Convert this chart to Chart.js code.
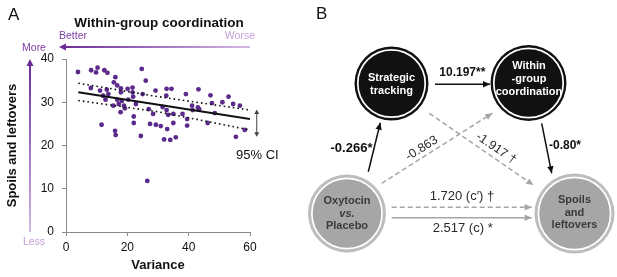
<!DOCTYPE html>
<html lang="en">
<head>
<meta charset="UTF-8">
<title>Coordination, spoils and oxytocin</title>
<script src="https://cdn.jsdelivr.net/npm/chart.js"></script>
<style>
    body {
        margin: 0;
        background: #fff;
    }
    .figure {
        position: relative;
        width: 617px;
        height: 277px;
    }
    #panelA { position: absolute; left: 0; top: 0; }
    #panelB { position: absolute; left: 300px; top: 0; }
</style>
</head>
<body>
<div class="figure">
    <canvas id="panelA" width="300" height="277"></canvas>
    <canvas id="panelB" width="317" height="277"></canvas>
</div>
<script>
    // ---- panel A data ----
    const varianceVals = [3.9, 8.2, 9.8, 10.3, 12.5, 13.5, 24.7, 16.1, 15.6, 16.7, 26.0, 8.1, 11.1, 13.3, 13.8, 12.1,
        12.9, 15.4, 17.9, 17.9, 20.1, 21.7, 21.7, 18.2, 16.7, 17.2, 18.9, 19.2, 17.8, 20.3, 21.9, 22.8, 25.0, 29.2,
        32.8, 34.4, 32.7, 27.0, 28.4, 27.4, 30.9, 33.0, 35.0, 35.0, 33.3, 32.8, 31.5, 39.1, 43.2, 41.1, 41.3, 39.5,
        39.5, 38.0, 47.1, 51.0, 53.0, 54.5, 56.7, 47.6, 43.0, 43.4, 48.5, 46.2, 58.3, 11.6, 16.0, 16.2, 22.1, 22.1,
        24.4, 29.3, 32.0, 34.0, 35.8, 55.4, 26.5];
    const spoilsVals = [37.0, 37.4, 36.9, 38.0, 37.4, 36.8, 37.7, 35.8, 34.6, 33.9, 35.0, 33.3, 32.7, 32.9, 31.9, 31.5,
        30.6, 29.2, 33.2, 32.3, 33.1, 33.4, 32.3, 30.3, 30.6, 29.6, 29.2, 28.6, 27.7, 30.6, 31.3, 29.6, 31.9, 32.7,
        33.1, 33.1, 31.5, 28.4, 27.3, 25.0, 24.5, 23.8, 25.2, 27.3, 27.1, 28.2, 28.9, 31.9, 33.0, 29.2, 28.2, 26.1,
        24.6, 27.3, 31.6, 30.0, 31.3, 29.6, 29.2, 29.8, 28.8, 28.4, 27.5, 25.2, 23.6, 24.8, 23.4, 22.4, 25.2, 26.7,
        22.2, 24.8, 21.4, 21.3, 21.9, 22.0, 11.8];

    const fitX = [4, 60];
    const fitY = [32.3, 26.1];
    const ciX = [4, 30, 60];
    const ciUpper = [34.4, 31.3, 28.2];
    const ciLower = [30.4, 27.8, 23.6];
    const ciBar = [28.3, 22.0];   // span shown by the "95% CI" double arrow
    const ciBarX = 62.2;

    const xTicks = [0, 20, 40, 60];
    const yTicks = [0, 10, 20, 30, 40];

    // ---- panel B data (path model) ----
    const nodeLabels = [['Strategic', 'tracking'], ['Within', '-group', 'coordination'], ['Oxytocin', 'vs.', 'Placebo'], ['Spoils', 'and', 'leftovers']];
    const edgeFrom = [0, 2, 1, 2, 0, 2, 2];
    const edgeTo = [1, 0, 3, 1, 3, 3, 3];
    const edgeCoef = ['10.197**', '-0.266*', '-0.80*', '-0.863', '-1.917 \u2020', '1.720 (c\u2032) \u2020', '2.517 (c) *'];
    const edgeSignificant = [true, true, true, false, false, false, true];

    const FONT = "'Liberation Sans', Arial, sans-serif";
    Chart.defaults.font.family = FONT;

    const purpleDark = '#6a2b93';
    const purpleLight = '#d4b8e4';
    const dotColor = '#5c2a8c';
    const axisGrey = '#8a8a8a';

    function arrowHead(ctx, x, y, angle, len, half, color) {
        ctx.save();
        ctx.translate(x, y);
        ctx.rotate(angle);
        ctx.beginPath();
        ctx.moveTo(0, 0);
        ctx.lineTo(-len, -half);
        ctx.lineTo(-len, half);
        ctx.closePath();
        ctx.fillStyle = color;
        ctx.fill();
        ctx.restore();
    }

    function text(ctx, str, x, y, font, color, align) {
        ctx.font = font;
        ctx.fillStyle = color;
        ctx.textAlign = align || 'center';
        ctx.textBaseline = 'middle';
        ctx.fillText(str, x, y);
    }

    // decorations of panel A: title, direction arrows, CI marker
    const panelADecor = {
        id: 'panelADecor',
        afterDraw(chart) {
            const { ctx, chartArea, scales: { x, y } } = chart;
            ctx.save();
            text(ctx, 'A', 8, 15, '17px ' + FONT, '#111', 'left');
            text(ctx, 'Within-group coordination', (chartArea.left + chartArea.right) / 2 + 1, 23, 'bold 13.5px ' + FONT, '#111');

            // horizontal "Better / Worse" arrow
            const ay = 47;
            let g = ctx.createLinearGradient(60, 0, chartArea.right, 0);
            g.addColorStop(0, purpleDark);
            g.addColorStop(1, purpleLight);
            ctx.strokeStyle = g;
            ctx.lineWidth = 2;
            ctx.beginPath();
            ctx.moveTo(chartArea.right, ay);
            ctx.lineTo(64, ay);
            ctx.stroke();
            arrowHead(ctx, 59, ay, Math.PI, 7, 3.5, purpleDark);
            text(ctx, 'Better', 59, 36, '10.5px ' + FONT, '#7d3ea3', 'left');
            text(ctx, 'Worse', 255, 36, '10.5px ' + FONT, '#c4a0d8', 'right');

            // vertical "More / Less" arrow
            const ax = 30;
            g = ctx.createLinearGradient(0, 60, 0, chartArea.bottom);
            g.addColorStop(0, purpleDark);
            g.addColorStop(1, purpleLight);
            ctx.strokeStyle = g;
            ctx.beginPath();
            ctx.moveTo(ax, chartArea.bottom);
            ctx.lineTo(ax, 64);
            ctx.stroke();
            arrowHead(ctx, ax, 59, -Math.PI / 2, 7, 3.5, purpleDark);
            text(ctx, 'More', 34, 48, '10.5px ' + FONT, '#7d3ea3');
            text(ctx, 'Less', 34, 242, '10.5px ' + FONT, '#c4a0d8');

            // 95% CI double arrow
            const cx = x.getPixelForValue(ciBarX);
            const cy1 = y.getPixelForValue(ciBar[0]);
            const cy2 = y.getPixelForValue(ciBar[1]);
            ctx.strokeStyle = '#444';
            ctx.lineWidth = 1;
            ctx.beginPath();
            ctx.moveTo(cx, cy1 + 3);
            ctx.lineTo(cx, cy2 - 3);
            ctx.stroke();
            arrowHead(ctx, cx, cy1, -Math.PI / 2, 4.5, 2.5, '#444');
            arrowHead(ctx, cx, cy2, Math.PI / 2, 4.5, 2.5, '#444');
            text(ctx, '95% CI', 236, 155, '13px ' + FONT, '#111', 'left');
            ctx.restore();
        }
    };

    const dottedLine = {
        type: 'line',
        borderColor: '#111',
        borderWidth: 1.6,
        borderDash: [1.6, 3],
        pointRadius: 0,
        fill: false,
        order: 0
    };

    new Chart(document.getElementById('panelA'), {
        type: 'scatter',
        data: {
            datasets: [
                {
                    data: varianceVals.map((v, i) => ({ x: v, y: spoilsVals[i] })),
                    backgroundColor: dotColor,
                    borderWidth: 0,
                    pointRadius: 2.4,
                    order: 1
                },
                {
                    type: 'line',
                    data: fitX.map((v, i) => ({ x: v, y: fitY[i] })),
                    borderColor: '#111',
                    borderWidth: 2,
                    pointRadius: 0,
                    fill: false,
                    order: 0
                },
                Object.assign({ data: ciX.map((v, i) => ({ x: v, y: ciUpper[i] })) }, dottedLine),
                Object.assign({ data: ciX.map((v, i) => ({ x: v, y: ciLower[i] })) }, dottedLine)
            ]
        },
        options: {
            responsive: false,
            animation: false,
            events: [],
            layout: { padding: { left: 0, right: 50, top: 59, bottom: 0 } },
            plugins: { legend: { display: false }, tooltip: { enabled: false } },
            scales: {
                x: {
                    type: 'linear',
                    min: 0,
                    max: 60,
                    afterBuildTicks: s => { s.ticks = xTicks.map(v => ({ value: v })); },
                    afterFit: s => { s.height = 45; },
                    ticks: { color: '#111', font: { size: 12 }, padding: 4, maxRotation: 0 },
                    grid: { drawOnChartArea: false, drawTicks: true, tickLength: 4, color: axisGrey },
                    border: { color: axisGrey },
                    title: { display: true, text: 'Variance', color: '#111', font: { size: 13, weight: 'bold' }, padding: { top: 0, bottom: 4 } }
                },
                y: {
                    min: 0,
                    max: 40,
                    afterBuildTicks: s => { s.ticks = yTicks.map(v => ({ value: v })); },
                    afterFit: s => { s.width = 66; },
                    ticks: { color: '#111', font: { size: 12 }, padding: 8 },
                    grid: { drawOnChartArea: false, drawTicks: true, tickLength: 4, color: axisGrey },
                    border: { color: axisGrey },
                    title: { display: true, text: 'Spoils and leftovers', color: '#111', font: { size: 13, weight: 'bold' }, padding: { top: 5, bottom: 0 } }
                }
            }
        },
        plugins: [panelADecor]
    });

    // ---- panel B layout (diagram units = pixels of panel B) ----
    const nodeLayout = {
        x: [91.5, 228.5, 47, 274.5],
        y: [83.5, 83, 213.5, 213.5],
        r: [37, 38, 39, 40],
        textDy: [1, -4, 0, -1]
    };
    const edgeLayout = [
        { x1: 135, y1: 84.3, x2: 190, y2: 84.3, lx: 162.3, ly: 72.3 },
        { x1: 68.3, y1: 171.7, x2: 80.3, y2: 122.7, lx: 51.5, ly: 148 },
        { x1: 241.7, y1: 123.3, x2: 251.7, y2: 173.3, lx: 265, ly: 146 },
        { x1: 81.7, y1: 183.3, x2: 192.3, y2: 113.3, lx: 121.7, ly: 148.3, rotate: true },
        { x1: 129.3, y1: 113.3, x2: 233.3, y2: 185, lx: 196, ly: 148.3, rotate: true },
        { x1: 91.7, y1: 207.3, x2: 231.7, y2: 207.3, lx: 162, ly: 196.7 },
        { x1: 91.7, y1: 217.7, x2: 231.7, y2: 217.7, lx: 162.7, ly: 228.3 }
    ];
    const edgeDashed = [false, false, false, true, true, true, false];
    const edgeLabelSize = [12, 13, 12, 12.5, 12.5, 13, 13];
    const blackNode = [true, true, false, false];

    const edgeColor = i => i < 3 ? '#111' : '#a6a6a6';

    const edgeDatasets = edgeLayout.map((e, i) => ({
        type: 'line',
        data: [{ x: e.x1, y: e.y1 }, { x: e.x2, y: e.y2 }],
        borderColor: edgeColor(i),
        borderWidth: 1.5,
        borderDash: edgeDashed[i] ? [5, 3] : [],
        pointRadius: 0,
        fill: false,
        order: 2
    }));

    const pathDecor = {
        id: 'pathDecor',
        afterDatasetsDraw(chart) {
            const { ctx, scales: { x, y } } = chart;
            ctx.save();
            // arrow heads and coefficients
            edgeLayout.forEach((e, i) => {
                const px1 = x.getPixelForValue(e.x1), py1 = y.getPixelForValue(e.y1);
                const px2 = x.getPixelForValue(e.x2), py2 = y.getPixelForValue(e.y2);
                const ang = Math.atan2(py2 - py1, px2 - px1);
                arrowHead(ctx, px2, py2, ang, 7, 3.2, edgeColor(i));
                const weight = i < 3 ? 'bold ' : '';
                ctx.save();
                ctx.translate(x.getPixelForValue(e.lx), y.getPixelForValue(e.ly));
                if (e.rotate) ctx.rotate(ang);
                text(ctx, edgeCoef[i], 0, 0, weight + edgeLabelSize[i] + 'px ' + FONT, i >= 3 ? '#2a2a2a' : '#111');
                ctx.restore();
            });
            // node labels
            nodeLabels.forEach((lines, n) => {
                const cx = x.getPixelForValue(nodeLayout.x[n]) + (n === 1 ? 0.5 : 0);
                const cy = y.getPixelForValue(nodeLayout.y[n]) + nodeLayout.textDy[n];
                const lh = 12.8;
                lines.forEach((ln, k) => {
                    const italic = ln === 'vs.' ? 'italic ' : '';
                    text(ctx, ln, cx, cy + (k - (lines.length - 1) / 2) * lh,
                        italic + 'bold 11px ' + FONT, blackNode[n] ? '#fff' : '#3a3a3a');
                });
            });
            ctx.restore();
        }
    };

    new Chart(document.getElementById('panelB'), {
        type: 'scatter',
        data: {
            datasets: edgeDatasets.concat([
                {
                    // outer ring
                    data: nodeLayout.x.map((v, i) => ({ x: v, y: nodeLayout.y[i] })),
                    pointRadius: nodeLayout.r,
                    backgroundColor: blackNode.map(b => b ? '#111' : '#bdbdbd'),
                    borderWidth: 0,
                    order: 1
                },
                {
                    // inner disc with white ring
                    data: nodeLayout.x.map((v, i) => ({ x: v, y: nodeLayout.y[i] })),
                    pointRadius: nodeLayout.r.map((r, i) => blackNode[i] ? r - 3.3 : r - 3.9),
                    backgroundColor: blackNode.map(b => b ? '#111' : '#a6a6a6'),
                    borderColor: '#fff',
                    borderWidth: 1.7,
                    order: 0
                }
            ])
        },
        options: {
            responsive: false,
            animation: false,
            events: [],
            layout: { padding: 0, autoPadding: false },
            plugins: { legend: { display: false }, tooltip: { enabled: false } },
            scales: {
                x: { type: 'linear', min: 0, max: 317, display: false },
                y: { type: 'linear', min: 0, max: 277, reverse: true, display: false }
            }
        },
        plugins: [pathDecor]
    });

    // "B" panel letter
    const bctx = document.getElementById('panelB').getContext('2d');
    text(bctx, 'B', 16, 14, '17px ' + FONT, '#111', 'left');
</script>
</body>
</html>
